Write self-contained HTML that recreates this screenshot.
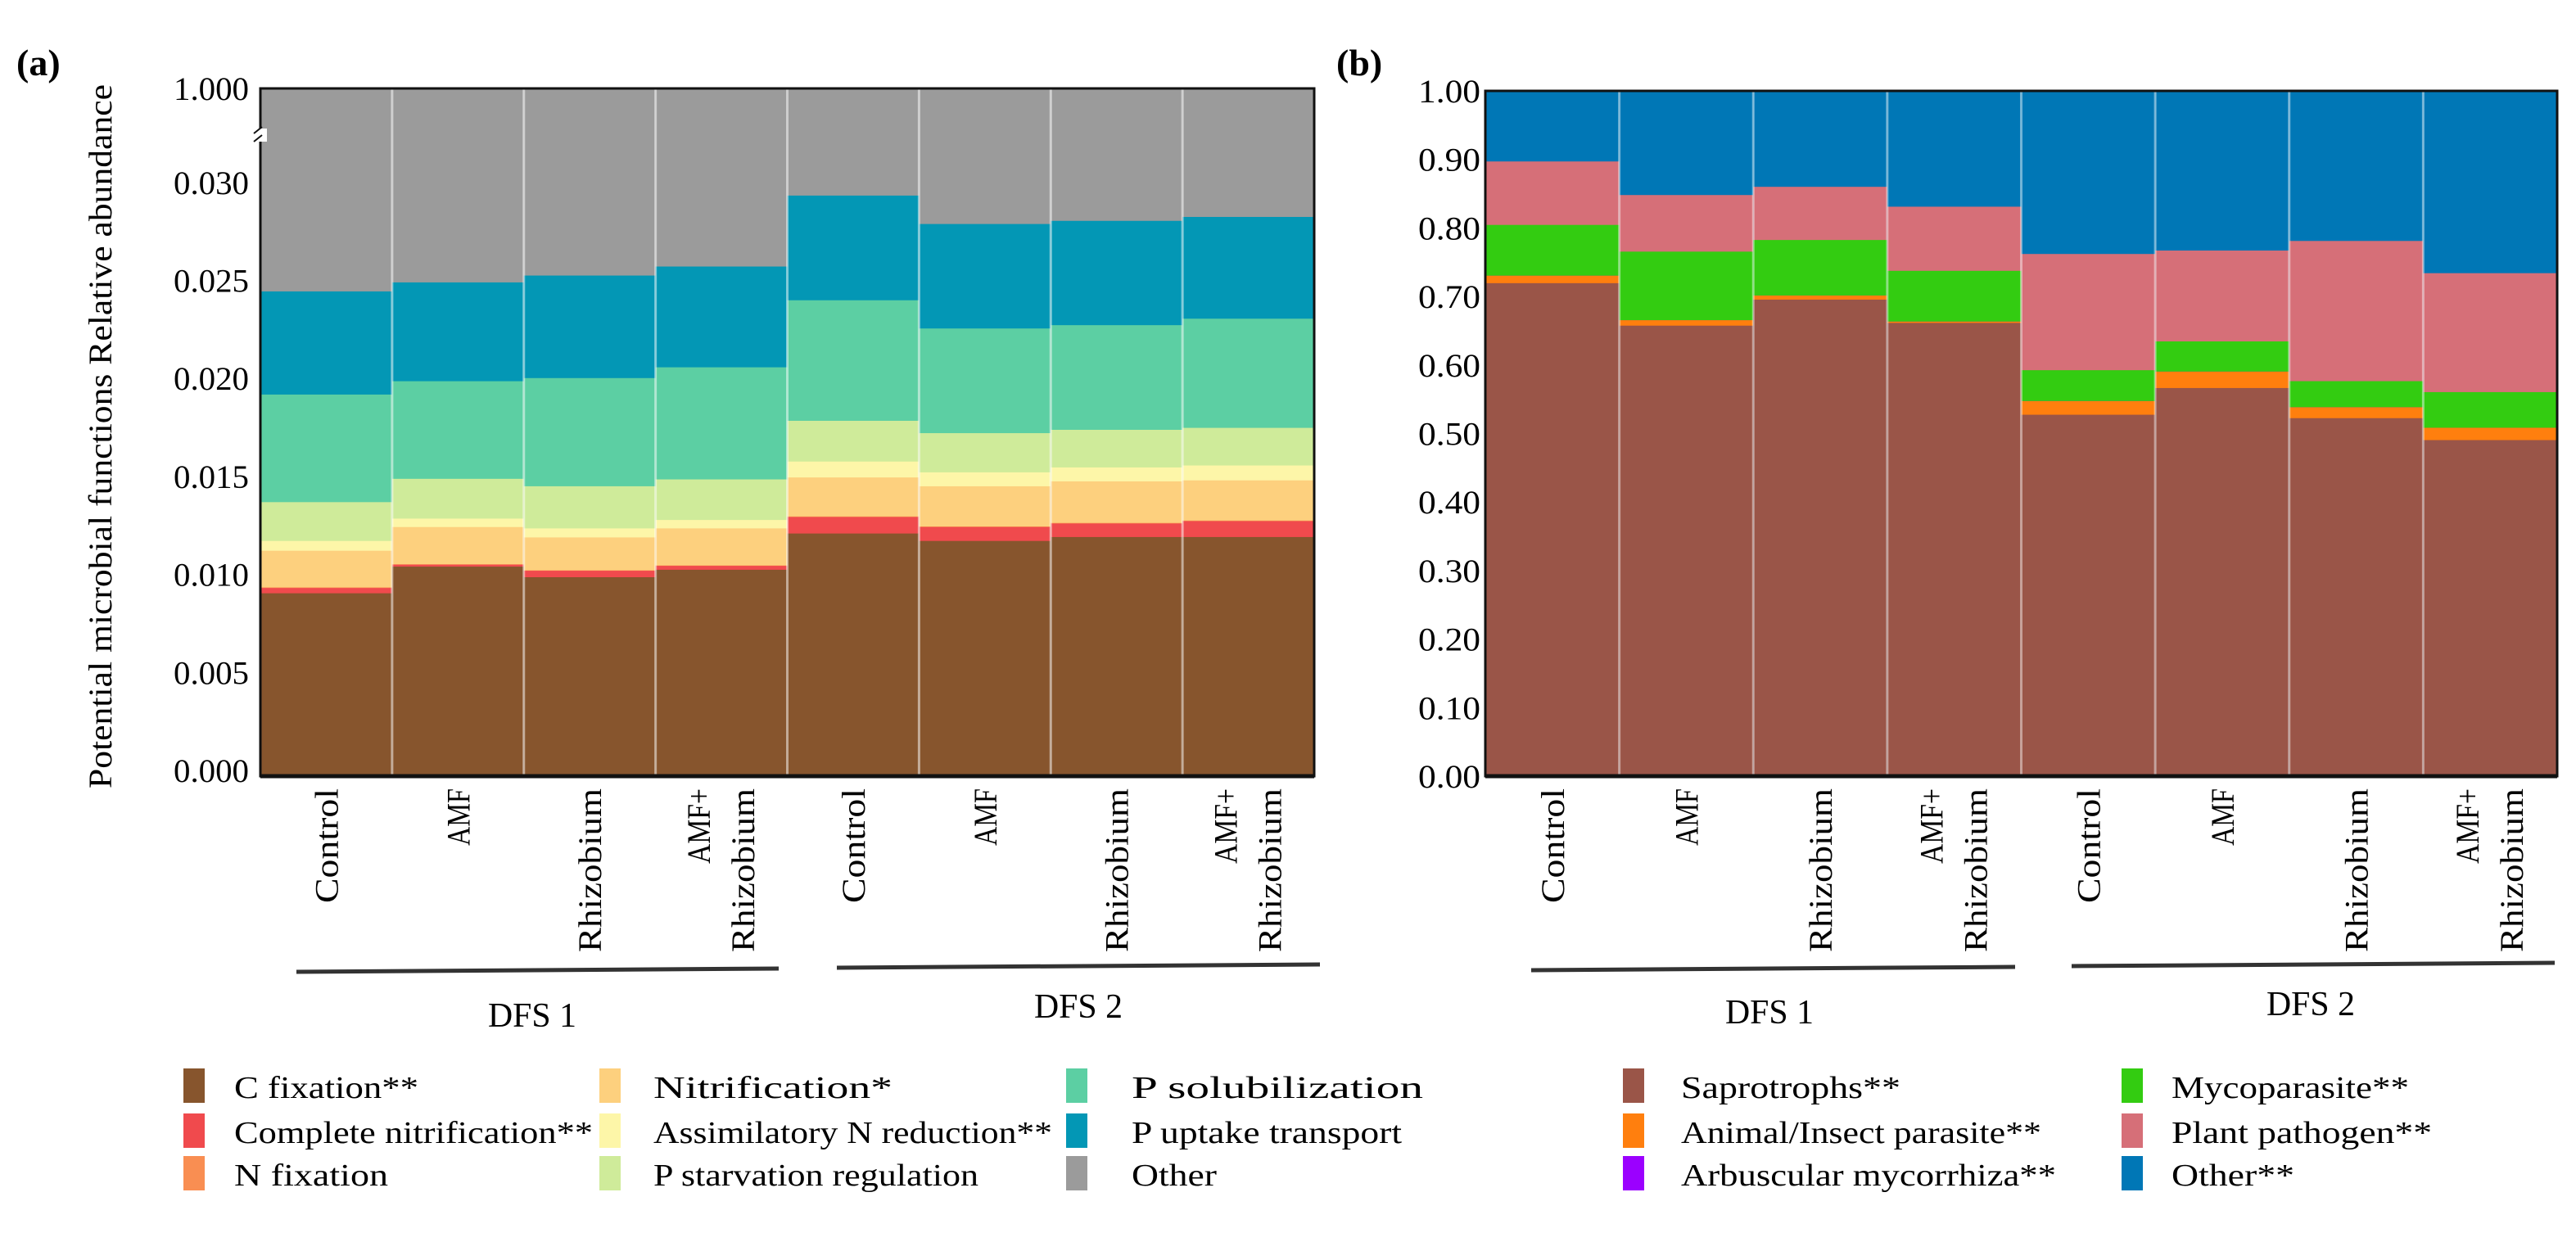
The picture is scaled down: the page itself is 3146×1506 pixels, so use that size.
<!DOCTYPE html>
<html><head><meta charset="utf-8"><style>
html,body{margin:0;padding:0;background:#fff;}
svg{display:block;font-family:"Liberation Serif","DejaVu Serif",serif;}
svg text{font-family:"Liberation Serif","DejaVu Serif",serif;}
</style></head><body>
<svg id="fig" width="3146" height="1506" viewBox="0 0 3146 1506" xmlns="http://www.w3.org/2000/svg" font-family="Liberation Serif, serif"></svg>
<script>
// ---- Panel (a) data (relative abundance, x0.001) ----
const catsA = ["Control","AMF","Rhizobium","AMF+|Rhizobium","Control","AMF","Rhizobium","AMF+|Rhizobium"];
const seriesA = ["C fixation**","Complete nitrification**","N fixation","Nitrification*","Assimilatory N reduction**","P starvation regulation","P solubilization","P uptake transport","Other"];
const colorsA = ["#87552d","#f04a4d","#f98e52","#fdd07e","#fdf6a8","#cfeb9a","#5ccfa3","#0397b5","#9b9b9b"];
const cFix    = [9.10,10.46,9.92,10.30,12.15,11.77,11.97,11.97];
const complN  = [0.27,0.10,0.33,0.20,0.84,0.71,0.69,0.81];
const nFix    = [0.03,0.02,0.02,0.02,0.03,0.03,0.03,0.03];
const nitrif  = [1.87,1.90,1.68,1.89,1.99,2.05,2.12,2.05];
const assimN  = [0.50,0.43,0.46,0.43,0.81,0.71,0.71,0.76];
const pStarv  = [1.98,2.03,2.15,2.07,2.08,2.00,1.92,1.92];
const pSolub  = [5.49,4.98,5.52,5.72,6.15,5.34,5.34,5.57];
const pUptake = [5.24,5.02,5.21,5.12,5.32,5.31,5.30,5.17];
const ticksA  = ["0.000","0.005","0.010","0.015","0.020","0.025","0.030"];
const tickValsA = [0,5,10,15,20,25,30];
// ---- Panel (b) data ----
const seriesB = ["Saprotrophs**","Animal/Insect parasite**","Arbuscular mycorrhiza**","Mycoparasite**","Plant pathogen**","Other**"];
const colorsB = ["#9a5548","#ff7f0e","#9b00ff","#33cc11","#d66f78","#0077b6"];
const sapro   = [0.720,0.658,0.696,0.662,0.528,0.567,0.523,0.491];
const animal  = [0.011,0.008,0.006,0.002,0.020,0.024,0.016,0.018];
const arbus   = [0.000,0.000,0.000,0.000,0.000,0.000,0.000,0.000];
const myco    = [0.074,0.100,0.081,0.074,0.045,0.044,0.038,0.052];
const pathog  = [0.092,0.082,0.077,0.093,0.169,0.132,0.204,0.173];
const tickValsB = [0,0.1,0.2,0.3,0.4,0.5,0.6,0.7,0.8,0.9,1.0];
const ticksB  = ["0.00","0.10","0.20","0.30","0.40","0.50","0.60","0.70","0.80","0.90","1.00"];

const NS="http://www.w3.org/2000/svg";
const svg=document.getElementById('fig');
const FF='"Liberation Serif", serif';
function mk(tag,attrs,parent){const e=document.createElementNS(NS,tag);for(const k in attrs)e.setAttribute(k,attrs[k]);if(tag==='text')e.setAttribute('font-family',FF);(parent||svg).appendChild(e);return e;}

// ===== Panel a =====
const gA=mk('g',{});


const aL=318,aR=1605,aTop=108,aBot=948,aBreak=165;
const yA=v=>942-v*23.94;
const bwA=(aR-aL)/catsA.length;
const segsA=[cFix,complN,nFix,nitrif,assimN,pStarv,pSolub,pUptake];
for(let i=0;i<catsA.length;i++){
  let cum=0;const x=aL+i*bwA;
  const o=mk('rect',{x:x,y:aTop,width:bwA,height:aBot-aTop,fill:colorsA[8]},gA);
  
  
  for(let s=0;s<segsA.length;s++){
    const v0=cum,v1=cum+segsA[s][i];cum=v1;
    const y0=s===0?aBot:yA(v0);
    const r=mk('rect',{x:x,y:yA(v1),width:bwA,height:y0-yA(v1)+0.5,fill:colorsA[s]},gA);
    
    
  }
  if(i>0){mk('line',{x1:x,y1:aTop,x2:x,y2:aBot,stroke:'#ffffff','stroke-opacity':0.5,'stroke-width':3},gA);}
}
mk('rect',{x:aL,y:aTop,width:aR-aL,height:aBot-aTop,fill:'none',stroke:'#111','stroke-width':3},gA);
mk('line',{x1:aL,y1:aBot,x2:aR,y2:aBot,stroke:'#111','stroke-width':5},gA);
mk('rect',{x:aL-8,y:aBreak-8,width:16,height:16,fill:'#fff'},gA);
mk('path',{d:`M${aL-8},${aBreak-2} l10,-8 M${aL-8},${aBreak+8} l10,-8`,stroke:'#111','stroke-width':2,fill:'none'},gA);
for(let t=0;t<ticksA.length;t++){
  const tx=mk('text',{x:304,y:yA(tickValsA[t])+13,'text-anchor':'end','font-size':40,textLength:92,lengthAdjust:'spacingAndGlyphs'},gA);
  tx.textContent=ticksA[t];
  
  
}
const t1=mk('text',{x:304,y:aTop+14,'text-anchor':'end','font-size':40,textLength:92,lengthAdjust:'spacingAndGlyphs'},gA);t1.textContent="1.000";


const yt=mk('text',{x:0,y:0,'text-anchor':'middle','font-size':40,transform:'translate(136,533) rotate(-90)',textLength:860,lengthAdjust:'spacingAndGlyphs'},gA);
yt.textContent="Potential microbial functions Relative abundance";


const la=mk('text',{x:20,y:92,'font-size':46,'font-weight':'bold'},gA);la.textContent="(a)";



function xLabels(g,L,bw,n,cats){
  for(let i=0;i<n;i++){
    const cx=L+(i+0.5)*bw;const parts=cats[i].split('|');
    parts.forEach((p,j)=>{
      const off=parts.length===1?14:(j===0?-14:40);
      const len={"Control":140,"AMF":70,"Rhizobium":200,"AMF+":92}[p];
      const t=mk('text',{x:0,y:0,'text-anchor':'end','font-size':40,transform:`translate(${cx+off},${963}) rotate(-90)`,textLength:len,lengthAdjust:'spacingAndGlyphs'},g);
      t.textContent=p;
      
      
    });
  }
}
xLabels(gA,aL,bwA,8,catsA);
function groupLine(g,x1,x2,y1,y2,lx,ly,txt){
  mk('line',{x1:x1,y1:y1,x2:x2,y2:y2,stroke:'#333','stroke-width':5},g);
  const t=mk('text',{x:lx,y:ly,'text-anchor':'middle','font-size':42,textLength:108,lengthAdjust:'spacingAndGlyphs'},g);
  t.textContent=txt;
  
  
}
groupLine(gA,362,951,1187,1183,650,1254,"DFS 1");
groupLine(gA,1022,1612,1182,1178,1317,1243,"DFS 2");

// ===== Panel b =====
const gB=mk('g',{});


const bL=1814,bR=3123,bTop=111,bBot=948;
const yB=v=>bBot-v*(bBot-bTop);
const bwB=(bR-bL)/8;
const segsB=[sapro,animal,arbus,myco,pathog];
for(let i=0;i<8;i++){
  const x=bL+i*bwB;let cum=0;
  const o=mk('rect',{x:x,y:bTop,width:bwB,height:bBot-bTop,fill:colorsB[5]},gB);
  
  
  for(let s=0;s<segsB.length;s++){
    const v0=cum,v1=cum+segsB[s][i];cum=v1;
    const r=mk('rect',{x:x,y:yB(v1),width:bwB,height:yB(v0)-yB(v1)+0.5,fill:colorsB[s]},gB);
    
    
  }
  if(i>0){mk('line',{x1:x,y1:bTop,x2:x,y2:bBot,stroke:'#ffffff','stroke-opacity':0.45,'stroke-width':3},gB);}
}
mk('rect',{x:bL,y:bTop,width:bR-bL,height:bBot-bTop,fill:'none',stroke:'#111','stroke-width':3},gB);
mk('line',{x1:bL,y1:bBot,x2:bR,y2:bBot,stroke:'#111','stroke-width':5},gB);
for(let t=0;t<ticksB.length;t++){
  const tx=mk('text',{x:1808,y:yB(tickValsB[t])+14,'text-anchor':'end','font-size':40,textLength:76,lengthAdjust:'spacingAndGlyphs'},gB);
  tx.textContent=ticksB[t];
  
  
}
const lb=mk('text',{x:1632,y:92,'font-size':46,'font-weight':'bold'},gB);lb.textContent="(b)";


xLabels(gB,bL,bwB,8,catsA);
groupLine(gB,1870,2461,1185,1181,2161,1250,"DFS 1");
groupLine(gB,2530,3120,1180,1176,2822,1240,"DFS 2");

// ===== Legends =====
function legend(names,colors,cols,lens){
  names.forEach((n,k)=>{
    const c=cols[Math.floor(k/3)],row=k%3;const y=[1335,1390,1442][row];
    const g=mk('g',{});
    
    
    mk('rect',{x:c[0],y:y-30,width:26,height:42,fill:colors[k]},g);
    const t=mk('text',{x:c[1],y:y+6,'font-size':38,textLength:lens[k],lengthAdjust:'spacingAndGlyphs'},g);
    t.textContent=n;
  });
}
legend(seriesA,colorsA,[[224,286],[732,798],[1302,1382]],[225,438,188,292,487,397,356,330,104]);
legend(seriesB,colorsB,[[1982,2053],[2591,2652]],[268,440,458,290,318,150]);
</script>
</body></html>
